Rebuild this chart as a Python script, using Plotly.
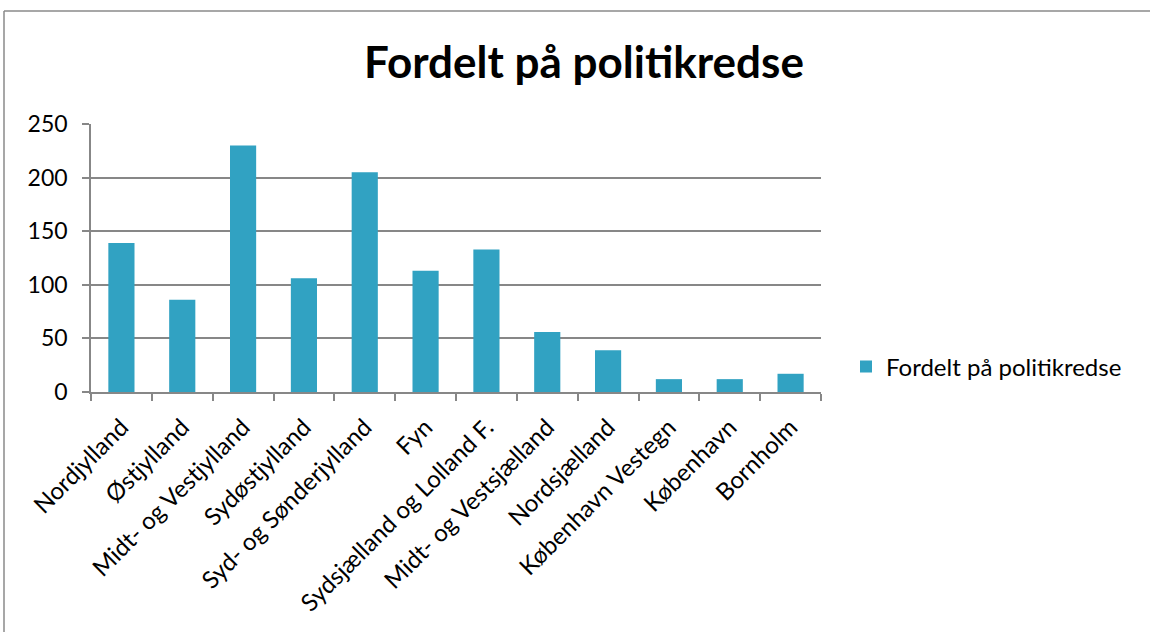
import plotly.graph_objects as go

categories = ["Nordjylland", "Østjylland", "Midt- og Vestjylland", "Sydøstjylland",
              "Syd- og Sønderjylland", "Fyn", "Sydsjælland og Lolland F.",
              "Midt- og Vestsjælland", "Nordsjælland", "København Vestegn",
              "København", "Bornholm"]
values = [139, 86, 230, 106, 205, 113, 133, 56, 39, 12, 12, 17]
series_name = "Fordelt på politikredse"
title_text = "Fordelt på politikredse"
y_ticks = [0, 50, 100, 150, 200, 250]

FONT = "Lato"
GRID = "#878787"

W, H = 1150, 632
L, R, T, B = 91, 821, 124, 392

fig = go.Figure()
fig.add_trace(go.Bar(
    x=categories, y=values, name=series_name,
    marker=dict(color="#31a2c2", line=dict(width=0)),
    width=0.43,
    showlegend=True,
))

def px_x(p):
    return (p - L) / (R - L)

def px_y(p):
    return (B - p) / (B - T)

fig.update_layout(
    width=W, height=H,
    margin=dict(l=L, r=W - R, t=T, b=H - B, pad=0, autoexpand=False),
    paper_bgcolor="white", plot_bgcolor="white",
    font=dict(family=FONT, color="black", size=23),
    title=dict(text="<b>" + title_text + "</b>", x=584 / W, xref="container",
               xanchor="center", y=1 - 63 / H, yref="container", yanchor="middle",
               font=dict(family=FONT, size=44, color="black")),
    showlegend=True,
    legend=dict(x=px_x(846), y=px_y(367), xanchor="left", yanchor="middle",
                font=dict(family=FONT, size=24, color="black"),
                bgcolor="rgba(0,0,0,0)"),
    xaxis=dict(showline=True, linecolor=GRID, linewidth=1.5, automargin=False,
               ticks="outside", tickson="boundaries", ticklen=7, tickcolor=GRID,
               tickwidth=1.5, tickangle=-45, showgrid=False, ticklabelstandoff=10,
               tickfont=dict(family=FONT, size=24, color="black")),
    yaxis=dict(range=[0, 250], tickvals=y_ticks, showline=True, linecolor=GRID,
               linewidth=1.5, ticks="outside", ticklen=7, tickcolor=GRID, tickwidth=1.5,
               showgrid=True, gridcolor=GRID, gridwidth=1.5, zeroline=False,
               automargin=False, ticklabelstandoff=10,
               tickfont=dict(family=FONT, size=23, color="black")),
    shapes=[
        dict(type="line", xref="paper", yref="paper",
             x0=px_x(4), x1=px_x(4), y0=px_y(11), y1=px_y(700),
             line=dict(color="#8a8a8a", width=1.5), layer="below"),
        dict(type="line", xref="paper", yref="paper",
             x0=px_x(4), x1=px_x(1200), y0=px_y(11), y1=px_y(11),
             line=dict(color="#8a8a8a", width=1.5), layer="below"),
    ],
)

fig.write_html("out.html", config={"displayModeBar": False},
               post_script="document.body.style.margin='0';document.body.style.overflow='hidden';")
